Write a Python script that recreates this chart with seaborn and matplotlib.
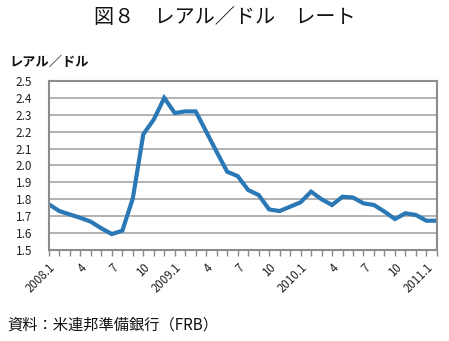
import matplotlib
matplotlib.use("Agg")
import matplotlib.pyplot as plt
import seaborn as sns
import pandas as pd
import numpy as np

months = ["2008.1","2008.2","2008.3","2008.4","2008.5","2008.6","2008.7","2008.8","2008.9","2008.10","2008.11","2008.12",
          "2009.1","2009.2","2009.3","2009.4","2009.5","2009.6","2009.7","2009.8","2009.9","2009.10","2009.11","2009.12",
          "2010.1","2010.2","2010.3","2010.4","2010.5","2010.6","2010.7","2010.8","2010.9","2010.10","2010.11","2010.12",
          "2011.1","2011.2"]
rate = [1.77, 1.73, 1.71, 1.69, 1.667, 1.628, 1.594, 1.614, 1.805, 2.185, 2.272, 2.40,
        2.31, 2.32, 2.32, 2.20, 2.08, 1.963, 1.937, 1.855, 1.825, 1.74, 1.73, 1.756,
        1.782, 1.845, 1.80, 1.766, 1.815, 1.81, 1.776, 1.766, 1.727, 1.683, 1.717, 1.707,
        1.673, 1.673]
tick_labels = ["2008.1","4","7","10","2009.1","4","7","10","2010.1","4","7","10","2011.1"]
yticks = [1.5,1.6,1.7,1.8,1.9,2.0,2.1,2.2,2.3,2.4,2.5]

sns.set_theme(style="white")
plt.rcParams['font.family'] = ['Noto Sans CJK JP', 'DejaVu Sans']

df = pd.DataFrame({"idx": np.arange(len(months)), "rate": rate})

fig = plt.figure(figsize=(4.49, 3.41), dpi=100)
ax = fig.add_axes([0.109, 0.267, 0.864, 0.4955])
sns.lineplot(data=df, x="idx", y="rate", ax=ax, color="#2a78b5", linewidth=3.0, solid_joinstyle="miter")

ax.set_xlim(0, len(months) - 1)
ax.set_ylim(1.5, 2.5)
ax.set_yticks(yticks)
ax.set_yticklabels([f"{v:.1f}" for v in yticks], fontsize=8.5, color="#222222")
ax.set_xticks(np.arange(0, len(months), 3))
ax.set_xticklabels(tick_labels, rotation=45, ha="right", rotation_mode="anchor", fontsize=8.3, color="#222222")
ax.set_xticks(np.arange(len(months)), minor=True)
ax.tick_params(axis="x", which="both", direction="out", length=4, width=1, color="#888888", bottom=True, pad=4)
ax.tick_params(axis="y", left=False, pad=6)
ax.set_xlabel("")
ax.set_ylabel("")
ax.yaxis.grid(True, color="#a6a6a6", linewidth=1.2)
ax.xaxis.grid(False)
for s in ax.spines.values():
    s.set_color("#8c8c8c")
    s.set_linewidth(1.5)
ax.set_axisbelow(True)

fig.text(0.5, 0.95, "図８　レアル／ドル　レート", ha="center", va="center", fontsize=14.5, color="#111111")
fig.text(0.022, 0.818, "レアル／ドル", ha="left", va="center", fontsize=9.5, fontweight="bold", color="#111111")
fig.text(0.016, 0.048, "資料：米連邦準備銀行（FRB）", ha="left", va="center", fontsize=11, color="#111111")

fig.savefig("out.png", dpi=100)
